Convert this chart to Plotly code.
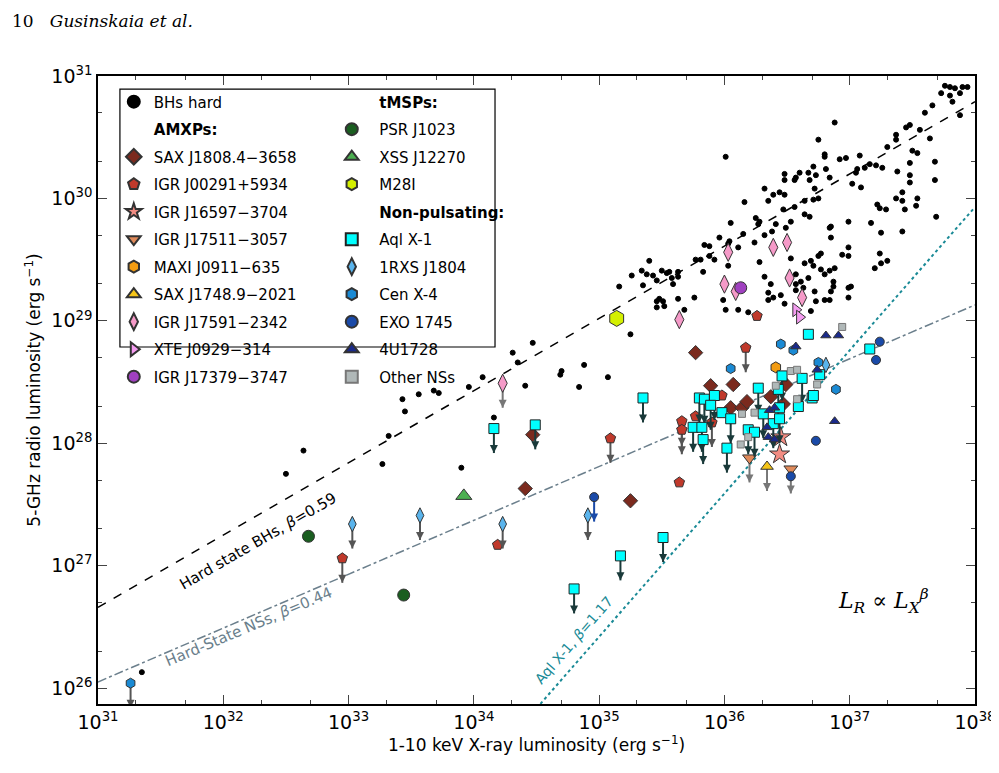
import numpy as np
import plotly.graph_objects as go

# ---- data (log10 L_X, log10 L_R) ----
bh_x = [37.76, 37.80, 37.84, 37.90, 37.94, 37.73, 37.80, 37.88, 37.82, 37.88, 37.60, 37.66, 37.48, 37.45,
        37.56, 37.64, 37.37, 37.37, 37.30, 37.50, 37.54, 37.68, 37.48, 37.68, 37.48, 37.48, 37.38, 37.26,
        37.21, 37.16, 37.12, 37.06, 37.05, 37.08, 36.97, 36.92, 37.02, 37.09, 36.88, 36.75, 36.80, 36.80,
        36.71, 36.67, 36.60, 36.57, 36.56, 36.48, 36.48, 36.48, 36.44, 36.39, 36.35, 36.32, 36.68, 36.73,
        36.81, 36.84, 36.72, 36.64, 36.71, 36.75, 36.56, 36.47, 36.64, 36.68, 36.16, 36.05, 36.25, 36.28,
        36.27, 36.24, 36.32, 36.38, 36.41, 36.49, 36.53, 36.15, 36.04, 36.03, 36.11, 35.96, 35.84, 35.88,
        35.88, 35.92, 35.81, 35.77, 35.83, 35.40, 35.34, 35.38, 35.43, 35.46, 35.50, 35.54, 35.56, 35.58,
        35.59, 35.63, 35.63, 35.26, 35.16, 35.48, 35.46, 35.46, 35.52, 35.63, 35.76, 35.68, 35.99, 36.03,
        36.01, 36.11, 36.19, 36.28, 36.32, 36.37, 36.35, 36.35, 36.39, 36.45, 36.48, 36.53, 36.57, 36.57,
        36.57, 36.61, 36.63, 36.67, 36.64, 36.69, 36.71, 36.75, 36.77, 36.77, 36.80, 36.84, 36.88, 36.87,
        36.87, 36.85, 36.84, 36.80, 36.73, 36.72, 36.69, 36.84, 36.85, 36.85, 36.99, 36.94, 36.99, 36.99,
        37.01, 36.99, 37.17, 37.22, 37.24, 37.29, 37.25, 37.24, 37.25, 37.30, 37.20, 37.42, 37.37, 37.44,
        37.42, 37.53, 37.54, 37.69, 37.42, 36.99, 36.01,
        31.35, 32.50, 32.64, 33.32, 33.43, 33.45, 33.27, 33.56, 33.68, 33.72, 33.96, 34.07, 33.90, 34.16,
        34.35, 34.41, 34.69, 34.70, 34.84, 34.88, 35.07, 34.31, 34.47, 35.25, 35.35, 35.51]
bh_y = [30.92, 30.91, 30.90, 30.91, 30.91, 30.86, 30.84, 30.86, 30.79, 30.68, 30.70, 30.76, 30.60, 30.58,
        30.56, 30.49, 30.52, 30.48, 30.42, 30.39, 30.37, 30.30, 30.29, 30.15, 30.19, 30.13, 30.22, 30.25,
        30.27, 30.28, 30.25, 30.24, 30.21, 30.35, 30.33, 30.32, 30.12, 30.09, 30.62, 30.48, 30.36, 30.34,
        30.26, 30.21, 30.21, 30.17, 30.15, 30.20, 30.15, 30.03, 30.05, 30.03, 29.98, 30.08, 30.15, 30.19,
        30.24, 30.17, 30.08, 29.98, 29.99, 30.00, 29.93, 29.91, 29.87, 29.85, 29.97, 29.80, 29.84, 29.81,
        29.79, 29.64, 29.70, 29.73, 29.79, 29.76, 29.81, 29.71, 29.65, 29.63, 29.60, 29.68, 29.62, 29.61,
        29.53, 29.50, 29.50, 29.50, 29.40, 29.49, 29.41, 29.38, 29.37, 29.33, 29.41, 29.39, 29.40, 29.35,
        29.30, 29.36, 29.40, 29.37, 29.28, 29.18, 29.16, 29.11, 29.12, 29.18, 29.19, 29.09, 29.17, 29.45,
        29.09, 29.09, 29.07, 29.48, 29.36, 29.30, 29.23, 29.17, 29.19, 29.21, 29.14, 29.51, 29.38, 29.30,
        29.25, 29.32, 29.27, 29.35, 29.47, 29.49, 29.45, 29.53, 29.55, 29.42, 29.38, 29.41, 29.43, 29.32,
        29.28, 29.24, 29.17, 29.17, 29.16, 29.24, 29.08, 29.76, 29.77, 29.68, 29.81, 29.54, 29.53, 29.60,
        29.28, 29.19, 29.80, 29.95, 29.92, 29.91, 29.72, 29.55, 29.47, 29.49, 29.43, 29.98, 30.00, 29.91,
        29.73, 29.94, 30.00, 29.85, 30.05, 29.27, 30.34,
        26.13, 27.75, 27.94, 28.06, 28.36, 28.26, 27.83, 28.40, 28.43, 28.41, 28.46, 28.54, 27.80, 28.21,
        28.66, 28.47, 28.56, 28.59, 28.46, 28.64, 28.54, 28.74, 28.82, 28.89, 29.29, 29.16]

aql_x = [34.16, 34.49, 35.35, 35.17, 34.80, 35.51, 36.67, 37.16, 35.80, 35.84, 35.92, 35.89, 35.98, 36.05,
         35.75, 35.82, 35.83, 36.02, 36.19, 36.24, 36.27, 36.31, 36.39, 36.43, 36.44, 36.44, 36.46, 36.62,
         36.76, 36.70, 36.71, 36.59]
aql_y = [28.12, 28.15, 28.37, 27.08, 26.81, 27.23, 28.89, 28.77, 28.37, 28.36, 28.39, 28.31, 28.25, 28.20,
         28.13, 28.13, 28.03, 27.96, 28.11, 28.09, 28.45, 28.24, 28.16, 28.44, 28.29, 28.20, 28.55, 28.53,
         28.56, 28.37, 28.39, 28.30]
aql_ul = [1, 1, 1, 1, 1, 1, 0, 0, 1, 1, 1, 1, 0, 1, 1, 1, 1, 1, 1, 1, 1, 1, 1, 1, 0, 1, 1, 1, 0, 0, 0, 0]

sax1808_x = [35.77, 34.47, 34.41, 35.25, 35.89, 36.07, 36.05, 36.14, 36.18, 36.37, 36.49, 36.47]
sax1808_y = [28.74, 28.07, 27.63, 27.53, 28.47, 28.48, 28.29, 28.29, 28.34, 28.38, 28.48, 28.32]
igr00291_x = [32.95, 34.19, 35.09, 35.64, 36.26, 36.17, 35.66, 35.66, 35.77, 35.90, 35.98]
igr00291_y = [27.06, 27.17, 28.04, 27.68, 29.04, 28.78, 28.18, 28.11, 28.22, 28.17, 28.39]
igr00291_ul = [1, 0, 1, 0, 0, 1, 1, 1, 0, 1, 0]
igr16597_x = [36.45, 36.44]
igr16597_y = [28.05, 27.91]
igr17511_x = [36.20, 36.53]
igr17511_y = [27.88, 27.79]
maxi_x = [36.41]
maxi_y = [28.62]
sax1748_x = [36.34]
sax1748_y = [27.81]
igr17591_x = [34.23, 36.03, 36.00, 36.09, 36.39, 36.50, 36.52, 36.62, 35.64]
igr17591_y = [28.49, 29.56, 29.30, 29.24, 29.60, 29.64, 29.35, 29.19, 29.01]
igr17591_ul = [1, 0, 0, 0, 0, 0, 0, 0, 0]
xte_x = [36.57, 36.60]
xte_y = [29.09, 29.03]
igr17379_x = [36.13]
igr17379_y = [29.27]
psr_x = [32.68, 33.44]
psr_y = [27.24, 26.76]
xss_x = [33.92]
xss_y = [27.57]
m28_x = [35.14]
m28_y = [29.02]
rxs_x = [33.03, 33.57, 34.23, 34.91, 36.81]
rxs_y = [27.34, 27.41, 27.34, 27.41, 28.64]
rxs_ul = [1, 1, 1, 1, 0]
cen_x = [31.26, 36.05, 36.45, 36.55, 36.75, 36.89]
cen_y = [26.04, 28.61, 28.81, 28.76, 28.66, 28.44]
cen_ul = [1, 0, 0, 0, 0, 0]
exo_x = [34.96, 37.24, 37.21, 36.73, 36.53]
exo_y = [27.56, 28.83, 28.68, 28.02, 27.73]
exo_ul = [1, 0, 0, 0, 0]
u1728_x = [36.81, 36.91, 36.57, 36.74, 36.36, 36.40, 36.34, 36.35, 36.40, 36.88]
u1728_y = [28.88, 28.88, 28.79, 28.60, 28.27, 28.29, 28.13, 28.05, 28.03, 28.18]
other_x = [36.94, 36.53, 36.58, 36.41, 36.74, 36.58, 36.24, 36.14, 36.13, 36.19]
other_y = [28.95, 28.59, 28.60, 28.47, 28.48, 28.36, 28.25, 28.24, 27.99, 28.05]

fig = go.Figure()

# correlation lines
lx = np.array([31.0, 38.0])
fig.add_trace(go.Scatter(x=10**lx, y=10**(26.66 + 0.59 * (lx - 31)), mode="lines",
                         line=dict(color="black", dash="dash", width=1.5), showlegend=False))
fig.add_trace(go.Scatter(x=10**lx, y=10**(26.05 + 0.44 * (lx - 31)), mode="lines",
                         line=dict(color="#6b7f8c", dash="dashdot", width=1.5), showlegend=False))
fig.add_trace(go.Scatter(x=10**lx, y=10**(25.87 + 1.17 * (lx - 34.53)), mode="lines",
                         line=dict(color="#1a8a96", dash="dot", width=2), showlegend=False))


def add(name, xs, ys, symbol, color, size, legend, ul=None, shaft="#555555", edge="#333333"):
    xs = np.array(xs, dtype=float)
    ys = np.array(ys, dtype=float)
    if ul is not None:
        m = np.array(ul) == 1
        sx, sy = [], []
        for a, b in zip(xs[m], ys[m]):
            sx += [10.0**a, 10.0**a, None]
            sy += [10.0**b, 10.0**(b - 0.2), None]
        fig.add_trace(go.Scatter(x=sx, y=sy, mode="lines", line=dict(color=shaft, width=2),
                                 showlegend=False, hoverinfo="skip"))
        fig.add_trace(go.Scatter(x=10.0**xs[m], y=10.0**(ys[m] - 0.2), mode="markers",
                                 marker=dict(symbol="arrow-down", size=8, color=shaft),
                                 showlegend=False, hoverinfo="skip"))
    fig.add_trace(go.Scatter(x=10.0**xs, y=10.0**ys, mode="markers", name=name, legend=legend,
                             legendgroup=name,
                             marker=dict(symbol=symbol, size=size, color=color,
                                         line=dict(color=edge, width=1))))


def heading(text, legend):
    fig.add_trace(go.Scatter(x=[None], y=[None], mode="markers", name="<b>" + text + "</b>",
                             legend=legend, legendgroup=text,
                             marker=dict(color="rgba(0,0,0,0)", size=1)))


add("BHs hard", bh_x, bh_y, "circle", "black", 5, "legend", edge="black")
heading("AMXPs:", "legend")
add("SAX J1808.4−3658", sax1808_x, sax1808_y, "diamond", "#7b2a1e", 11, "legend")
add("IGR J00291+5934", igr00291_x, igr00291_y, "pentagon", "#c0392b", 11, "legend", ul=igr00291_ul)
add("IGR J16597−3704", igr16597_x, igr16597_y, "star", "#f28c82", 15, "legend")
add("IGR J17511−3057", igr17511_x, igr17511_y, "triangle-down", "#e08a5a", 12, "legend",
    ul=[1, 1], shaft="#777777")
add("MAXI J0911−635", maxi_x, maxi_y, "hexagon", "#f39c12", 11, "legend")
add("SAX J1748.9−2021", sax1748_x, sax1748_y, "triangle-up", "#f5c518", 11, "legend",
    ul=[1], shaft="#777777")
add("IGR J17591−2342", igr17591_x, igr17591_y, "diamond-tall", "#f59ac8", 13, "legend",
    ul=igr17591_ul, shaft="#777777")
add("XTE J0929−314", xte_x, xte_y, "triangle-right", "#f49cf0", 12, "legend")
add("IGR J17379−3747", igr17379_x, igr17379_y, "circle", "#a040c0", 12, "legend")
heading("tMSPs:", "legend2")
add("PSR J1023", psr_x, psr_y, "circle", "#1a5e20", 12, "legend2")
add("XSS J12270", xss_x, xss_y, "triangle-up", "#4caf50", 14, "legend2")
add("M28I", m28_x, m28_y, "hexagon", "#d4f000", 16, "legend2")
heading("Non-pulsating:", "legend2")
add("Aql X-1", aql_x, aql_y, "square", "#00ffff", 10, "legend2", ul=aql_ul, shaft="#1a3a3a",
    edge="#222222")
add("1RXS J1804", rxs_x, rxs_y, "diamond-tall", "#5ab4ec", 11, "legend2", ul=rxs_ul)
add("Cen X-4", cen_x, cen_y, "hexagon", "#1a8ad4", 10, "legend2", ul=cen_ul)
add("EXO 1745", exo_x, exo_y, "circle", "#1a4aa8", 9, "legend2", ul=exo_ul, shaft="#1a4aa8")
add("4U1728", u1728_x, u1728_y, "triangle-up", "#1a2a8a", 9, "legend2")
add("Other NSs", other_x, other_y, "square", "#b0b8b8", 7, "legend2", edge="#777777")

xdec = list(range(31, 39))
ydec = list(range(26, 32))
fig.update_xaxes(type="log", range=[31, 38], tickvals=[10.0**v for v in xdec],
                 ticktext=["10<sup>%d</sup>" % v for v in xdec], ticks="inside", ticklen=9,
                 mirror="ticks", showline=True, automargin=False,
                 linecolor="black", linewidth=1.5, showgrid=False, zeroline=False,
                 minor=dict(ticks="inside", ticklen=4, showgrid=False),
                 tickfont=dict(size=19, color="black"),
                 title=dict(text="1-10 keV X-ray luminosity (erg s<sup>−1</sup>)",
                            font=dict(size=17, color="black"), standoff=8))
fig.update_yaxes(type="log", range=[25.87, 31.0], tickvals=[10.0**v for v in ydec],
                 ticktext=["10<sup>%d</sup>" % v for v in ydec], ticks="inside",
                 ticklen=9, mirror="ticks", showline=True, linecolor="black", linewidth=1.5,
                 showgrid=False, zeroline=False, automargin=False,
                 minor=dict(ticks="inside", ticklen=4, showgrid=False),
                 tickfont=dict(size=19, color="black"),
                 title=dict(text="5-GHz radio luminosity (erg s<sup>−1</sup>)",
                            font=dict(size=17, color="black"), standoff=6))

leg = dict(bgcolor="rgba(0,0,0,0)", borderwidth=0, font=dict(size=15, color="black"),
           tracegroupgap=5, itemsizing="constant", yanchor="top", xanchor="left")
fig.update_layout(
    width=999, height=766, paper_bgcolor="white", plot_bgcolor="white",
    margin=dict(l=90, r=32, t=68, b=70),
    font=dict(family="DejaVu Sans", color="black"),
    legend=dict(leg, x=0.018, y=0.985),
    legend2=dict(leg, x=0.258, y=0.985, itemwidth=45),
    shapes=[dict(type="rect", xref="paper", yref="paper", x0=0.025, x1=0.4527, y0=0.5685,
                 y1=0.979, line=dict(color="black", width=1.2), fillcolor="white", layer="above")],
    annotations=[
        dict(text="10   <i>Gusinskaia et al.</i>", xref="paper", yref="paper", x=-0.1, y=1.107,
             xanchor="left", showarrow=False, font=dict(family="DejaVu Serif", size=17)),
        dict(text="Hard state BHs, <i>β</i>=0.59", x=32.28, y=27.2, textangle=-30, showarrow=False,
             font=dict(size=15, color="black")),
        dict(text="Hard-State NSs, <i>β</i>=0.44", x=32.2, y=26.5, textangle=-23, showarrow=False,
             font=dict(size=15, color="#6b7f8c")),
        dict(text="Aql X-1, <i>β</i>=1.17", x=34.8, y=26.39, textangle=-49, showarrow=False,
             font=dict(size=14, color="#1a8a96")),
        dict(text="<i>L<sub>R</sub></i> ∝ <i>L<sub>X</sub><sup>β</sup></i>", x=37.27, y=26.71,
             showarrow=False, font=dict(family="DejaVu Serif", size=22, color="black")),
    ],
)

fig.write_html("out.html")
